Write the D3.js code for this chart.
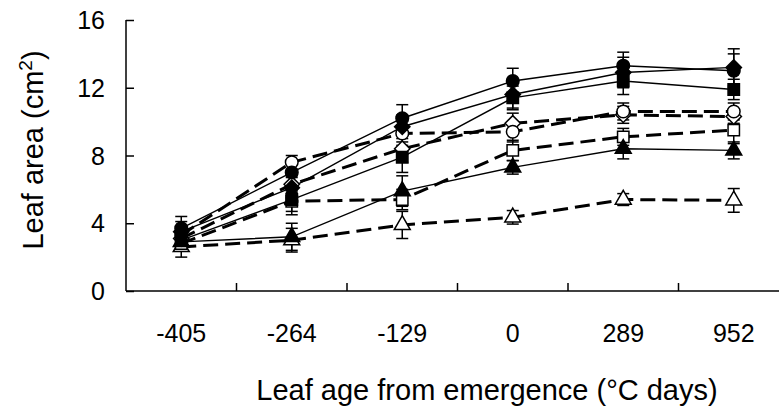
<!DOCTYPE html>
<html>
<head>
<meta charset="utf-8">
<script src="https://cdn.jsdelivr.net/npm/d3@7"></script>
<style>
  body { margin: 0; background: #fff; }
  text { font-family: "Liberation Sans", Arial, sans-serif; fill: #000; }
</style>
</head>
<body>
<svg width="779" height="414"></svg>
<script>
// leaf age categories (°C days from emergence)
var ages = ["-405", "-264", "-129", "0", "289", "952"];
var yTicks = [0, 4, 8, 12, 16];

// leaf area means (cm2) and error bars, one array per treatment
var filledCircle   = [3.7, 7.0, 10.2, 12.4, 13.3, 13.0];
var filledDiamond  = [3.5, 6.1, 9.7, 11.6, 12.9, 13.2];
var filledSquare   = [3.0, 5.4, 7.9, 11.4, 12.4, 11.9];
var filledTriangle = [2.9, 3.2, 5.9, 7.3, 8.4, 8.3];
var openCircle     = [3.3, 7.6, 9.3, 9.4, 10.6, 10.6];
var openDiamond    = [3.1, 6.3, 8.4, 9.9, 10.4, 10.3];
var openSquare     = [2.8, 5.3, 5.4, 8.3, 9.1, 9.5];
var openTriangle   = [2.6, 3.0, 3.9, 4.35, 5.4, 5.35];

var errFilledCircle   = [0.7, 0.7, 0.8, 0.75, 0.8, 1.0];
var errFilledDiamond  = [0.6, 0.6, 0.7, 0.8, 0.9, 1.1];
var errFilledSquare   = [0.5, 0.9, 0.9, 0.7, 0.8, 0.6];
var errFilledTriangle = [0.4, 0.8, 0.9, 0.4, 0.6, 0.5];
var errOpenCircle     = [0.5, 0.4, 0.7, 0.6, 0.5, 0.5];
var errOpenDiamond    = [0.5, 0.5, 0.8, 0.6, 0.5, 0.4];
var errOpenSquare     = [0.4, 0.6, 0.6, 0.6, 0.5, 0.8];
var errOpenTriangle   = [0.6, 0.7, 0.8, 0.4, 0.35, 0.7];

// drawing order: open (dashed) series underneath, filled (solid) on top
var series = [
  {values: openTriangle,   err: errOpenTriangle,   shape: d3.symbolTriangle, filled: false},
  {values: openSquare,     err: errOpenSquare,     shape: d3.symbolSquare,   filled: false},
  {values: openDiamond,    err: errOpenDiamond,    shape: d3.symbolDiamond2, filled: false},
  {values: openCircle,     err: errOpenCircle,     shape: d3.symbolCircle,   filled: false},
  {values: filledCircle,   err: errFilledCircle,   shape: d3.symbolCircle,   filled: true},
  {values: filledDiamond,  err: errFilledDiamond,  shape: d3.symbolDiamond2, filled: true},
  {values: filledSquare,   err: errFilledSquare,   shape: d3.symbolSquare,   filled: true},
  {values: filledTriangle, err: errFilledTriangle, shape: d3.symbolTriangle, filled: true}
];

var svg = d3.select("svg");
var plotLeft = 126, plotRight = 789, plotTop = 20, plotBottom = 291;

var x = d3.scaleBand().domain(ages).range([plotLeft, plotRight]);
var y = d3.scaleLinear().domain([0, 16]).range([plotBottom, plotTop]);
var cx = function(i) { return x(ages[i]) + x.bandwidth() / 2; };

// axes: ticks point inward
var yAxis = svg.append("g")
  .attr("transform", "translate(" + plotLeft + ",0)")
  .call(d3.axisRight(y).tickValues(yTicks).tickSize(8).tickFormat(""));
yAxis.select(".domain").attr("d", "M0," + plotTop + "V" + plotBottom);
yAxis.selectAll("line, path").attr("stroke", "#000").attr("stroke-width", 1.5);

var xAxis = svg.append("g")
  .attr("transform", "translate(0," + plotBottom + ")")
  .call(d3.axisTop(x).tickSize(0).tickFormat(""));
xAxis.select(".domain").attr("d", "M" + plotLeft + ",0H" + plotRight)
  .attr("stroke", "#000").attr("stroke-width", 1.5);

// category separators
svg.append("g").selectAll("line")
  .data(ages.slice(1))
  .join("line")
  .attr("x1", d => x(d)).attr("x2", d => x(d))
  .attr("y1", plotBottom).attr("y2", plotBottom - 8)
  .attr("stroke", "#000").attr("stroke-width", 1.5);

svg.append("g").selectAll("text")
  .data(yTicks)
  .join("text")
  .attr("x", 105)
  .attr("y", d => y(d) + 9)
  .attr("text-anchor", "end")
  .style("font-size", "25px")
  .text(d => d);

svg.append("g").selectAll("text")
  .data(ages)
  .join("text")
  .attr("x", d => x(d) + x.bandwidth() / 2)
  .attr("y", 342)
  .attr("text-anchor", "middle")
  .style("font-size", "25px")
  .text(d => d);

svg.append("text")
  .attr("x", 487)
  .attr("y", 400)
  .attr("text-anchor", "middle")
  .style("font-size", "29px")
  .text("Leaf age from emergence (°C days)");

var yTitle = svg.append("text")
  .attr("transform", "translate(43,150) rotate(-90)")
  .attr("text-anchor", "middle")
  .style("font-size", "29px");
yTitle.append("tspan").text("Leaf area (cm");
yTitle.append("tspan").attr("dy", -11).style("font-size", "19px").text("2");
yTitle.append("tspan").attr("dy", 11).text(")");

var line = d3.line().x((d, i) => cx(i)).y(d => y(d));

// lines
svg.append("g").selectAll("path")
  .data(series)
  .join("path")
  .attr("d", d => line(d.values))
  .attr("fill", "none")
  .attr("stroke", "#000")
  .attr("stroke-width", d => d.filled ? 1.4 : 3)
  .attr("stroke-dasharray", d => d.filled ? null : "15,7");

// error bars
var bars = svg.append("g");
series.forEach(function(s) {
  s.values.forEach(function(v, i) {
    var g = bars.append("g").attr("stroke", "#000").attr("stroke-width", 1.5);
    g.append("line").attr("x1", cx(i)).attr("x2", cx(i))
      .attr("y1", y(v - s.err[i])).attr("y2", y(v + s.err[i]));
    [v - s.err[i], v + s.err[i]].forEach(function(e) {
      g.append("line").attr("x1", cx(i) - 6).attr("x2", cx(i) + 6)
        .attr("y1", y(e)).attr("y2", y(e));
    });
  });
});

// markers
var markers = svg.append("g");
series.forEach(function(s) {
  var area = s.shape === d3.symbolCircle ? 125 : s.shape === d3.symbolSquare ? 130 : s.shape === d3.symbolTriangle ? 110 : 150;
  markers.selectAll(null)
    .data(s.values)
    .join("path")
    .attr("transform", (d, i) => "translate(" + cx(i) + "," + y(d) + ")")
    .attr("d", d3.symbol().type(s.shape).size(area))
    .attr("fill", s.filled ? "#000" : "#fff")
    .attr("stroke", "#000")
    .attr("stroke-width", 1.5);
});
</script>
</body>
</html>
